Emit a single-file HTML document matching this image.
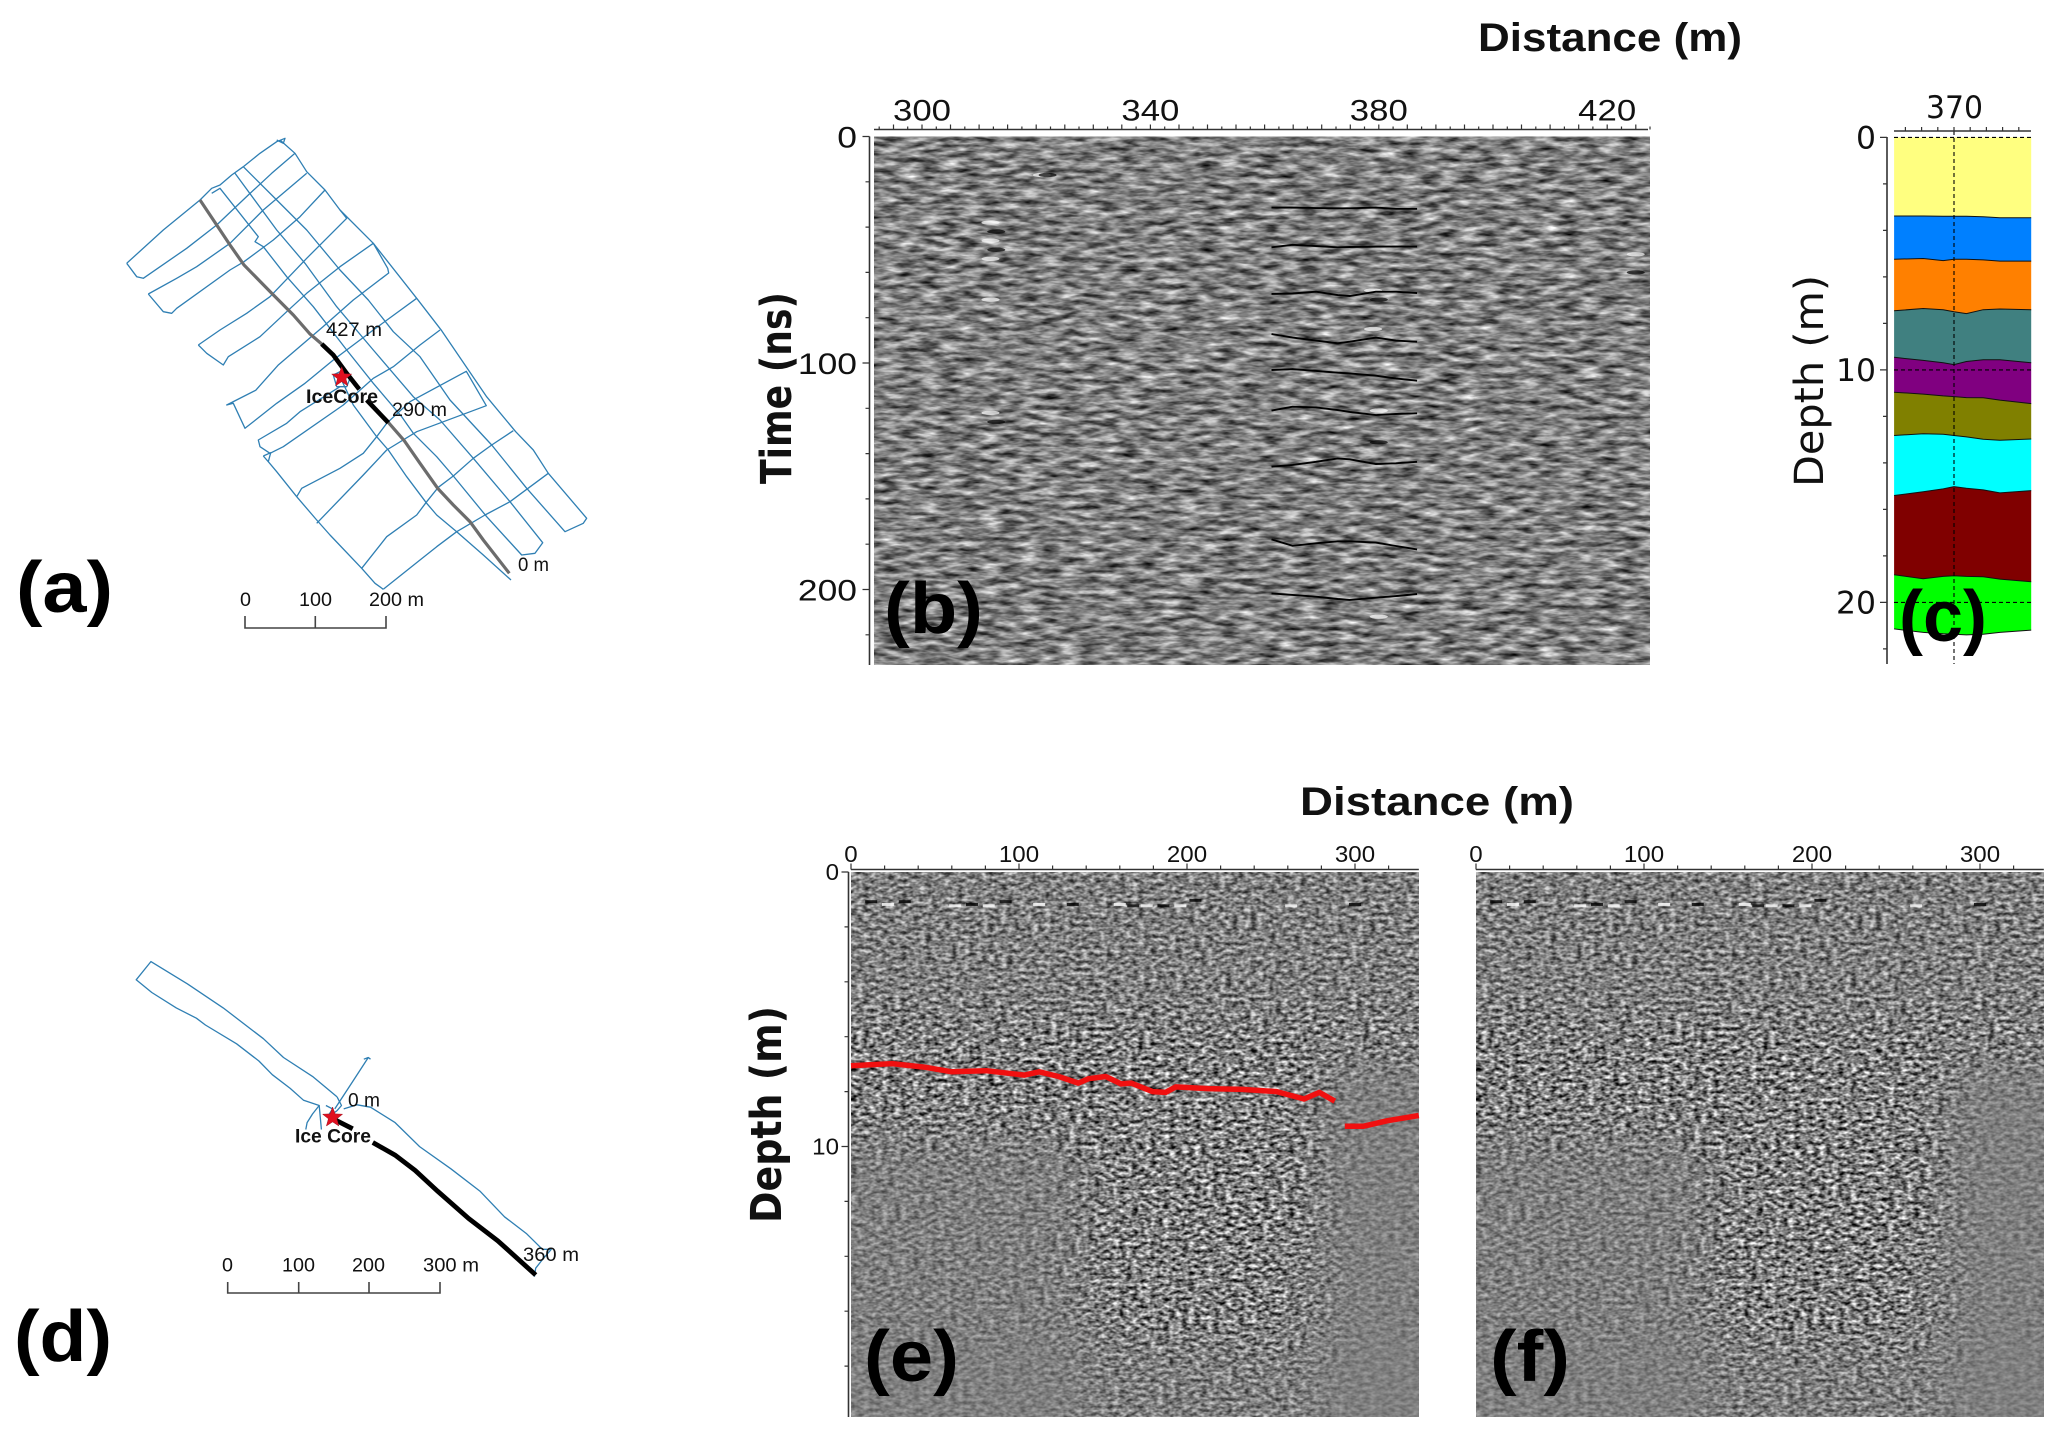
<!DOCTYPE html>
<html lang="en">
<head>
<meta charset="utf-8">
<title>GPR survey maps and radargrams</title>
<style>
html,body{margin:0;padding:0;background:#fff;}
svg{display:block;}
text{font-family:"Liberation Sans",sans-serif;fill:#111;}
.dj{font-family:"DejaVu Sans","Liberation Sans",sans-serif;}
.panel{font-weight:bold;font-size:72px;fill:#000;}
.track{fill:none;stroke:#2f7fb3;stroke-width:1.3;stroke-linejoin:round;}
</style>
</head>
<body>
<svg id="fig" xmlns="http://www.w3.org/2000/svg" width="2067" height="1437" viewBox="0 0 2067 1437">
<defs>
<filter id="noiseB" x="0" y="0" width="100%" height="100%" color-interpolation-filters="sRGB" filterUnits="objectBoundingBox">
  <feTurbulence type="fractalNoise" baseFrequency="0.05 0.19" numOctaves="3" seed="7"/>
  <feColorMatrix type="matrix" values="1.2 0 0 0 -0.1  1.2 0 0 0 -0.1  1.2 0 0 0 -0.1  0 0 0 0 1"/>
</filter>
<filter id="noiseE" x="0" y="0" width="100%" height="100%" color-interpolation-filters="sRGB" filterUnits="objectBoundingBox">
  <feTurbulence type="fractalNoise" baseFrequency="0.16 0.27" numOctaves="2" seed="11"/>
  <feColorMatrix type="matrix" values="1.6 0 0 0 -0.3  1.6 0 0 0 -0.3  1.6 0 0 0 -0.3  0 0 0 0 1"/>
</filter>
<filter id="soft" x="-30%" y="-30%" width="160%" height="160%"><feGaussianBlur stdDeviation="24"/></filter>
<clipPath id="clipB"><rect x="874" y="136.5" width="776" height="528.5"/></clipPath>
<clipPath id="clipE"><rect x="0" y="0" width="568" height="545"/></clipPath>
</defs>

<text class="panel" x="16" y="612" textLength="97" lengthAdjust="spacingAndGlyphs">(a)</text>
<text class="panel" x="14" y="1361" textLength="98" lengthAdjust="spacingAndGlyphs">(d)</text>

<g id="mapA"></g>
<g id="mapD"></g>

<g id="panelB">
  <rect x="874" y="136.5" width="776" height="528.5" fill="#808080" filter="url(#noiseB)"/>
  <g id="anomB" clip-path="url(#clipB)"></g>
  <g id="horizonsB"></g>
  <g id="axesB"></g>
  <text class="panel" x="884" y="633" textLength="99" lengthAdjust="spacingAndGlyphs">(b)</text>
</g>
<text x="1478" y="51" font-size="40" font-weight="bold" textLength="264" lengthAdjust="spacingAndGlyphs">Distance (m)</text>
<text class="dj" transform="translate(791,484) rotate(-90)" font-size="43" font-weight="bold" textLength="192" lengthAdjust="spacingAndGlyphs">Time (ns)</text>

<g id="panelC"></g>
<text class="dj" transform="translate(1823,487) rotate(-90)" font-size="40" textLength="212" lengthAdjust="spacingAndGlyphs">Depth (m)</text>
<text class="panel" x="1899" y="641" textLength="88" lengthAdjust="spacingAndGlyphs">(c)</text>

<text x="1300" y="815" font-size="40" font-weight="bold" textLength="274" lengthAdjust="spacingAndGlyphs">Distance (m)</text>
<text class="dj" transform="translate(781,1223) rotate(-90)" font-size="43" font-weight="bold" textLength="217" lengthAdjust="spacingAndGlyphs">Depth (m)</text>

<g transform="translate(851,872)">
  <rect x="0" y="0" width="568" height="545" fill="#808080" filter="url(#noiseE)"/>
  <g clip-path="url(#clipE)">
    <rect x="-40" y="265" width="270" height="320" fill="#808080" opacity=".55" filter="url(#soft)"/>
    <rect x="470" y="190" width="140" height="400" fill="#808080" opacity=".7" filter="url(#soft)"/>
    <rect x="-40" y="-40" width="650" height="190" fill="#808080" opacity=".3" filter="url(#soft)"/>
    <rect x="-40" y="470" width="650" height="120" fill="#808080" opacity=".4" filter="url(#soft)"/>
    <g id="streakE"></g>
  </g>
</g>
<g transform="translate(1476,872)">
  <rect x="0" y="0" width="568" height="545" fill="#808080" filter="url(#noiseE)"/>
  <g clip-path="url(#clipE)">
    <rect x="-40" y="265" width="270" height="320" fill="#808080" opacity=".55" filter="url(#soft)"/>
    <rect x="470" y="190" width="140" height="400" fill="#808080" opacity=".7" filter="url(#soft)"/>
    <rect x="-40" y="-40" width="650" height="190" fill="#808080" opacity=".3" filter="url(#soft)"/>
    <rect x="-40" y="470" width="650" height="120" fill="#808080" opacity=".4" filter="url(#soft)"/>
    <g id="streakF"></g>
  </g>
</g>
<g id="axesE"></g>
<g id="axesF"></g>
<g id="reflector"></g>
<text class="panel" x="864" y="1381" textLength="95" lengthAdjust="spacingAndGlyphs">(e)</text>
<text class="panel" x="1490" y="1381" textLength="80" lengthAdjust="spacingAndGlyphs">(f)</text>
</svg>

<script>
// ---------- panel (b) data: distance (m) / two-way time (ns)
var bTickLabels = [300, 340, 380, 420];
var bTimeLabels = [0, 100, 200];
var horizonDistance = [361.2, 364.9, 369, 372.8, 374.9, 379.5, 383, 386.7];
var horizon1 = [31.4, 31.4, 31.6, 31.7, 31.7, 31.4, 31.9, 31.9];
var horizon2 = [48.9, 47.8, 48.4, 48.9, 48.8, 48.6, 48.6, 48.6];
var horizon3 = [69.5, 69.3, 68.5, 70, 70.4, 68.5, 68.5, 69.1];
var horizon4 = [87.2, 88.8, 90.1, 91.3, 90.6, 88.8, 90.1, 90.6];
var horizon5 = [103.1, 102.7, 103.5, 104.3, 104.6, 105.6, 106.8, 107.8];
var horizon6 = [121, 119.3, 119.6, 120.8, 121.6, 123, 122.5, 122.2];
var horizon7 = [145.8, 145, 143.6, 142.1, 142.5, 144.6, 144.3, 143.6];
var horizon8 = [177.9, 180.7, 179.6, 178.7, 178.7, 179.3, 180.8, 182.3];
var horizon9 = [201.7, 202.4, 203.2, 204.2, 204.6, 203.6, 202.9, 202];
var horizons = [horizon1, horizon2, horizon3, horizon4, horizon5, horizon6, horizon7, horizon8, horizon9];
// strong diffraction spots: distance, time, polarity
var spotDistance = [312, 313, 312, 313, 312, 312, 312, 313, 379, 380, 379, 380, 380, 380, 425, 425, 321, 322];
var spotTime = [38, 42, 46, 50, 54, 72, 122, 126, 68, 72, 85, 121, 135, 212, 52, 60, 17, 17];
var spotShade = [1, 0, 1, 0, 1, 1, 1, 0, 1, 0, 1, 1, 0, 1, 1, 0, 1, 0];

// ---------- panel (c) data: distance (m) / depth (m)
var layerDistance = [358.9, 364.3, 368, 370, 372.3, 375.4, 378.5, 384.3];
var layerTop1 = [3.38, 3.38, 3.39, 3.39, 3.39, 3.41, 3.46, 3.46];
var layerTop2 = [5.24, 5.21, 5.3, 5.24, 5.24, 5.27, 5.32, 5.32];
var layerTop3 = [7.46, 7.36, 7.41, 7.5, 7.58, 7.41, 7.38, 7.41];
var layerTop4 = [9.46, 9.59, 9.69, 9.77, 9.64, 9.56, 9.56, 9.69];
var layerTop5 = [10.96, 11.04, 11.12, 11.15, 11.19, 11.2, 11.3, 11.45];
var layerTop6 = [12.82, 12.75, 12.77, 12.82, 12.88, 12.98, 13.03, 12.97];
var layerTop7 = [15.4, 15.24, 15.12, 15.02, 15.09, 15.16, 15.29, 15.19];
var layerTop8 = [18.81, 18.98, 18.88, 18.85, 18.88, 18.9, 19.0, 19.11];
var layerBottom = [21.14, 21.29, 21.35, 21.37, 21.4, 21.37, 21.29, 21.19];
var layerSurface = [0, 0, 0, 0, 0, 0, 0, 0];
var layerEdges = [layerSurface, layerTop1, layerTop2, layerTop3, layerTop4, layerTop5, layerTop6, layerTop7, layerTop8, layerBottom];
var layerColors = ['#ffff80', '#0080ff', '#ff8000', '#408080', '#800080', '#808000', '#00ffff', '#800000', '#00ff00'];
var cDepthLabels = [0, 10, 20];
var cDistanceLabels = [370];

// ---------- panels (e)/(f) data: distance (m) / depth (m)
var eDistanceLabels = [0, 100, 200, 300];
var eDepthLabels = [0, 10];
var reflectorDistanceA = [0, 24.4, 44.8, 60, 80.4, 103.3, 112, 123.6, 135.3, 141.4, 151.6, 160.7, 166.8, 179.5, 187.2, 193.3, 212.6, 233, 253.4, 269.7, 278.8, 288];
var reflectorDepthA = [7.06, 6.98, 7.12, 7.28, 7.24, 7.40, 7.28, 7.45, 7.69, 7.53, 7.45, 7.72, 7.69, 8.0, 8.03, 7.83, 7.89, 7.92, 8.0, 8.27, 8.03, 8.35];
var reflectorDistanceB = [293.9, 305.1, 319.4, 338];
var reflectorDepthB = [9.26, 9.26, 9.06, 8.87];
var streakDistance = [12, 22, 32, 62, 72, 82, 92, 112, 132, 160, 168, 176, 186, 196, 205, 262, 300];
var streakDepth = [1.1, 1.2, 1.1, 1.25, 1.2, 1.25, 1.1, 1.2, 1.2, 1.2, 1.25, 1.25, 1.25, 1.25, 1.05, 1.25, 1.2];

// ---------- survey map (a): local survey grid coordinates
var gridA = [
 [480,30, 525,70, 560,125, 615,180, 660,240, 760,340, 890,505, 965,602, 1099,799, 1187,905, 1240,960, 1285,1030, 1400,1165, 1390,1180, 1335,1205, 1220,1075, 1115,945, 990,810, 900,680, 820,605, 745,510, 660,420, 560,300, 470,210, 370,110],
 [345,130, 470,300, 555,400, 650,530, 760,660, 880,800, 960,870, 1060,985, 1170,1115, 1268,1238, 1245,1270, 1205,1275, 1100,1160, 1000,1038, 950,980, 880,910, 845,860, 760,760, 680,660, 580,530, 500,440, 430,350, 405,335, 415,320, 300,175, 275,190],
 [660,740, 700,825, 770,920, 805,960, 860,1040, 920,1120, 950,1155, 1010,1205, 1090,1275, 1173,1350],
 [430,978, 445,995, 470,1025, 530,1100, 590,1170, 630,1215, 725,1315, 765,1360, 790,1378],
 [85,492, 130,545, 155,550, 170,535, 330,420, 372,395, 460,330, 540,260, 615,180],
 [20,400, 130,300, 240,210, 275,175, 300,165, 335,135, 370,110, 420,70, 470,35, 495,25, 490,40, 470,30],
 [20,400, 50,440, 70,445, 200,355, 290,285, 385,195, 455,130, 525,70],
 [85,492, 170,445, 230,410, 330,340, 430,240, 560,130],
 [235,645, 300,600, 380,550, 450,500, 560,385, 680,265, 660,240],
 [235,645, 245,655, 260,670, 310,705, 325,680, 420,620, 500,545, 560,490, 660,410, 760,340, 803,415, 806,429, 700,510, 608,591, 474,706, 407,781, 320,825, 340,820, 375,895, 470,820, 555,760, 640,690, 760,600, 890,505],
 [660,770, 540,845, 500,880, 415,930, 420,950, 450,970, 490,950, 670,825, 760,745, 820,710, 900,645, 960,600],
 [430,978, 452,968, 445,995],
 [530,1100, 545,1075, 660,1015, 730,970, 770,920, 800,880, 870,815, 1039,724, 1099,827, 890,905, 800,960, 730,1035, 590,1180],
 [725,1315, 800,1220, 890,1155, 920,1115, 955,1072, 1000,1038, 1060,985, 1115,945, 1180,902],
 [790,1378, 900,1290, 950,1250, 1010,1205, 1095,1155, 1170,1115, 1285,1030],
 [640,735, 660,725, 690,745, 680,770, 650,770, 640,735]
];
var profileGrayA = [240,210, 290,285, 330,345, 372,405, 455,490, 520,555, 570,612, 605,642];
var profileBlackA1 = [605,642, 640,675, 680,730, 718,778];
var profileBlackA2 = [740,810, 805,878];
var profileGrayA2 = [803,875, 853,932, 900,1000, 953,1075, 1000,1125, 1050,1175, 1090,1230, 1168,1330];
var coreA = [665, 742];

// ---------- survey map (d): local survey grid coordinates
var gridD = [
 [755,575, 700,515, 635,460, 590,405, 500,315, 420,245, 338,180, 305,233, 340,270, 395,315, 440,345, 460,365, 530,420, 580,470, 610,510, 650,550, 680,585, 715,600, 700,625, 688,650, 685,670],
 [715,600, 720,670],
 [730,600, 745,610, 735,630],
 [755,575, 765,600, 755,615, 750,620],
 [750,610, 790,530, 825,460, 815,465],
 [825,460, 830,465],
 [770,610, 800,598, 830,605, 885,650, 940,720, 1010,785, 1075,850, 1130,925, 1180,975, 1215,1020, 1235,1020, 1215,1050, 1200,1075, 1197,1100]
];
var profileBlackD1 = [748,640, 790,668];
var profileBlackD2 = [835,708, 885,745, 930,790, 980,850, 1050,930, 1115,995, 1200,1095];
var coreD = [745, 635];

// ---------- axis functions
function bX(m) { return 922 + (m - 300) * 5.71; }
function bY(t) { return 136.5 + t * 2.265; }
function cX(m) { return 1954 + (m - 370) * 5.4; }
function cY(d) { return 137.4 + d * 23.25; }
function eX(m) { return 851 + m * 1.68; }
function fX(m) { return 1476 + m * 1.68; }
function eY(d) { return 872 + d * 27.45; }
function aX(u) { return 120 + u / 3; }
function aY(v) { return 130 + v / 3; }
function dX(u) { return u / 2.24; }
function dY(v) { return 900 + v / 2.92; }

var NS = 'http://www.w3.org/2000/svg';
function mk(parent, tag, attrs, txt) {
  var el = document.createElementNS(NS, tag);
  for (var k in attrs) el.setAttribute(k, attrs[k]);
  if (txt !== undefined) el.textContent = txt;
  parent.appendChild(el);
  return el;
}
function flatPath(arr, fx, fy) {
  var s = '';
  for (var i = 0; i < arr.length; i += 2) s += (i ? 'L' : 'M') + fx(arr[i]).toFixed(1) + ' ' + fy(arr[i + 1]).toFixed(1);
  return s;
}
function seriesPath(xs, ys, fx, fy) {
  var s = '';
  for (var i = 0; i < xs.length; i++) s += (i ? 'L' : 'M') + fx(xs[i]).toFixed(1) + ' ' + fy(ys[i]).toFixed(1);
  return s;
}
function starPoints(cx, cy, r) {
  var p = [];
  for (var i = 0; i < 10; i++) {
    var a = -Math.PI / 2 + i * Math.PI / 5, q = i % 2 ? r * 0.42 : r;
    p.push((cx + q * Math.cos(a)).toFixed(1) + ',' + (cy + q * Math.sin(a)).toFixed(1));
  }
  return p.join(' ');
}
function textW(parent, x, y, str, size, width, extra) {
  var at = { x: x, y: y, 'font-size': size, textLength: width, lengthAdjust: 'spacingAndGlyphs' };
  for (var k in (extra || {})) at[k] = extra[k];
  return mk(parent, 'text', at, str);
}

// ---------- map (a)
var mapA = document.getElementById('mapA');
gridA.forEach(function (line) {
  var el = mk(mapA, 'path', { d: flatPath(line, aX, aY), 'class': 'track' });
  
  
});
[profileGrayA, profileGrayA2].forEach(function (line) {
  var el = mk(mapA, 'path', { d: flatPath(line, aX, aY), fill: 'none', stroke: '#6c6c6c', 'stroke-width': 3.2 });
  
  
});
[profileBlackA1, profileBlackA2].forEach(function (line) {
  var el = mk(mapA, 'path', { d: flatPath(line, aX, aY), fill: 'none', stroke: '#000', 'stroke-width': 4.6 });
  
  
});
var starA = mk(mapA, 'polygon', { points: starPoints(aX(coreA[0]), aY(coreA[1]), 10.5), fill: '#e01020', stroke: '#a01020', 'stroke-width': 0.5 });


var t;
t = textW(mapA, 326, 336, '427 m', 19, 56);


t = textW(mapA, 392, 416, '290 m', 19, 55);


t = textW(mapA, 518, 571, '0 m', 19, 31);


t = textW(mapA, 306, 403, 'IceCore', 19, 72, { 'font-weight': 'bold' });


var barA = mk(mapA, 'path', { d: 'M245 616V628H386V616M315.3 616V628', fill: 'none', stroke: '#444', 'stroke-width': 1.6 });


t = textW(mapA, 240, 606, '0', 19, 11);


t = textW(mapA, 299, 606, '100', 19, 33);


t = textW(mapA, 369, 606, '200 m', 19, 55);



// ---------- map (d)
var mapD = document.getElementById('mapD');
gridD.forEach(function (line) {
  var el = mk(mapD, 'path', { d: flatPath(line, dX, dY), 'class': 'track' });
  
  
});
[profileBlackD1, profileBlackD2].forEach(function (line) {
  var el = mk(mapD, 'path', { d: flatPath(line, dX, dY), fill: 'none', stroke: '#000', 'stroke-width': 4.8 });
  
  
});
var starD = mk(mapD, 'polygon', { points: starPoints(dX(coreD[0]), dY(coreD[1]), 10.5), fill: '#e01020', stroke: '#a01020', 'stroke-width': 0.5 });


t = textW(mapD, 348, 1106.5, '0 m', 19, 32);


t = textW(mapD, 295, 1142.5, 'Ice Core', 19, 76, { 'font-weight': 'bold' });


t = textW(mapD, 523, 1261, '360 m', 19, 56);


var barD = mk(mapD, 'path', { d: 'M227.7 1282V1293H440V1282M298.7 1282V1293M369 1282V1293', fill: 'none', stroke: '#444', 'stroke-width': 1.6 });


t = textW(mapD, 222, 1271.5, '0', 19, 11);


t = textW(mapD, 282, 1271.5, '100', 19, 33);


t = textW(mapD, 352, 1271.5, '200', 19, 33);


t = textW(mapD, 423, 1271.5, '300 m', 19, 56);



// ---------- panel (b)
var anomB = document.getElementById('anomB');
spotDistance.forEach(function (m, i) {
  var el = mk(anomB, 'ellipse', { cx: bX(m), cy: bY(spotTime[i]), rx: 9, ry: 2.2, fill: spotShade[i] ? '#fff' : '#000', opacity: 0.7 });
  
  
});
var hb = document.getElementById('horizonsB');
horizons.forEach(function (h) {
  var el = mk(hb, 'path', { d: seriesPath(horizonDistance, h, bX, bY), fill: 'none', stroke: '#000', 'stroke-width': 1.9 });
  
  
});
var axB = document.getElementById('axesB');
var axLine;
axLine = mk(axB, 'path', { d: 'M874 129.5H1648M869.5 136.5V665', fill: 'none', stroke: '#333', 'stroke-width': 1.6 });


var dT = '';
for (var m = 292.5; m <= 427.5; m += 2.5) dT += 'M' + bX(m).toFixed(1) + ' 129.5v-' + (m % 5 === 0 ? 5 : 3);
for (var ns = 0; ns <= 233; ns += 20) dT += 'M869.5 ' + bY(ns).toFixed(1) + 'h-' + (ns % 100 === 0 ? 7 : 4);
axLine = mk(axB, 'path', { d: dT, fill: 'none', stroke: '#333', 'stroke-width': 1.2 });


bTickLabels.forEach(function (v) {
  var el = textW(axB, bX(v) - 29, 120.5, String(v), 30, 58);
  
  
});
bTimeLabels.forEach(function (v) {
  var w = String(v).length * 19.7;
  var el = textW(axB, 857 - w, bY(v) + 11, String(v), 30, w);
  
  
});

// ---------- panel (c)
var pc = document.getElementById('panelC');
layerColors.forEach(function (col, i) {
  var top = layerEdges[i], bot = layerEdges[i + 1];
  var d = seriesPath(layerDistance, top, cX, cY);
  for (var j = layerDistance.length - 1; j >= 0; j--) d += 'L' + cX(layerDistance[j]).toFixed(1) + ' ' + cY(bot[j]).toFixed(1);
  var el = mk(pc, 'path', { d: d + 'Z', fill: col });
  
  
});
layerEdges.slice(1).forEach(function (edge) {
  var el = mk(pc, 'path', { d: seriesPath(layerDistance, edge, cX, cY), fill: 'none', stroke: '#111', 'stroke-width': 1 });
  
  
});
var dashH = '';
cDepthLabels.forEach(function (v) { dashH += 'M1894 ' + cY(v).toFixed(1) + 'H2031'; });
cDistanceLabels.forEach(function (v) { dashH += 'M' + cX(v).toFixed(1) + ' 131V664'; });
var gridC = mk(pc, 'path', { d: dashH, fill: 'none', stroke: '#000', 'stroke-width': 1.1, 'stroke-dasharray': '4 3' });


var axC = mk(pc, 'path', { d: 'M1894 131H2031M1887 137V664', fill: 'none', stroke: '#333', 'stroke-width': 1.6 });


var dC = '';
for (var k = -3; k <= 4; k++) dC += 'M' + (cX(370) + k * 16.2).toFixed(1) + ' 131v-4';
for (var dp = 0; dp <= 22; dp += 2) dC += 'M1887 ' + cY(dp).toFixed(1) + 'h-' + (dp % 10 === 0 ? 7 : 4);
var tkC = mk(pc, 'path', { d: dC, fill: 'none', stroke: '#333', 'stroke-width': 1.2 });


cDepthLabels.forEach(function (v) {
  var w = String(v).length * 20;
  var el = textW(pc, 1876 - w, cY(v) + 11, String(v), 31, w, { 'class': 'dj' });
  
  
});
cDistanceLabels.forEach(function (v) {
  var el = textW(pc, cX(v) - 28, 118, String(v), 31, 57, { 'class': 'dj' });
  
  
});

// ---------- panels (e), (f)
[['streakE'], ['streakF']].forEach(function (id) {
  var g = document.getElementById(id[0]);
  streakDistance.forEach(function (m, i) {
    var a = mk(g, 'rect', { x: m * 1.68 - 6, y: streakDepth[i] * 27.45 - 2, width: 12, height: 3, fill: i % 2 ? '#fff' : '#000', opacity: 0.8 });
    
    
  });
});
function buildAxes(gid, fx, withY) {
  var g = document.getElementById(gid);
  var x0 = fx(0), x1 = fx(338);
  var el = mk(g, 'path', { d: 'M' + x0 + ' 869.5H' + x1 + (withY ? 'M848.5 872V1417' : ''), fill: 'none', stroke: '#333', 'stroke-width': 1.6 });
  
  
  var d = '';
  for (var m = 0; m <= 338; m += 20) d += 'M' + fx(m).toFixed(1) + ' 869.5v-' + (m % 100 === 0 ? 6 : 4);
  if (withY) for (var dp = 0; dp <= 19; dp += 2) d += 'M848.5 ' + eY(dp).toFixed(1) + 'h-' + (dp % 10 === 0 ? 7 : 4);
  var tk = mk(g, 'path', { d: d, fill: 'none', stroke: '#333', 'stroke-width': 1.2 });
  
  
  eDistanceLabels.forEach(function (v) {
    var w = String(v).length * 13.4;
    var lab = textW(g, fx(v) - w / 2, 862, String(v), 23, w);
    
    
  });
  if (withY) eDepthLabels.forEach(function (v) {
    var w = String(v).length * 13.4;
    var lab = textW(g, 839 - w, eY(v) + 8, String(v), 23, w);
    
    
  });
}
buildAxes('axesE', eX, true);
buildAxes('axesF', fX, false);
var refl = document.getElementById('reflector');
var r1 = mk(refl, 'path', { d: seriesPath(reflectorDistanceA, reflectorDepthA, eX, eY), fill: 'none', stroke: '#f01010', 'stroke-width': 5.5, 'stroke-linejoin': 'round' });


var r2 = mk(refl, 'path', { d: seriesPath(reflectorDistanceB, reflectorDepthB, eX, eY), fill: 'none', stroke: '#f01010', 'stroke-width': 5.5, 'stroke-linejoin': 'round' });


</script>
</body>
</html>
